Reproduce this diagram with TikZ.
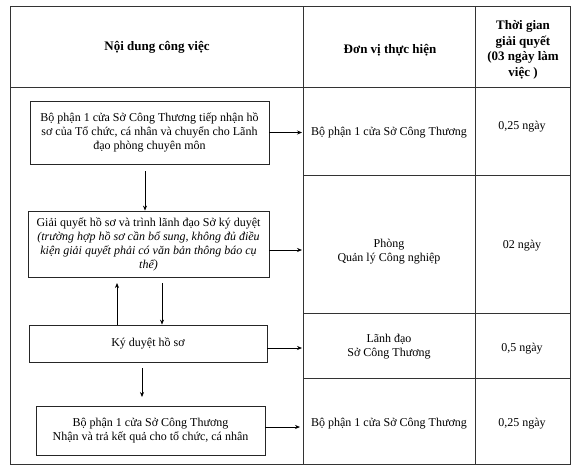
\documentclass[tikz,border=0pt]{standalone}
\usepackage{fontspec}
\setmainfont{Liberation Serif}
\usetikzlibrary{arrows.meta}
\begin{document}
\begin{tikzpicture}[x=1pt,y=-1pt,
  grid/.style={line width=0.7pt, draw=black!80},
  box/.style={draw=black!85, line width=0.8pt, rectangle, inner sep=0pt, align=center,
     font=\fontsize{12}{14}\selectfont},
  txt/.style={align=center, inner sep=0pt, font=\fontsize{12}{14}\selectfont},
  head/.style={align=center, inner sep=0pt, font=\fontsize{13}{15.5}\selectfont\bfseries},
  arr/.style={line width=0.7pt, -{Stealth[length=5pt,width=4pt]}}
]
\useasboundingbox (0,0) rectangle (576,474);
% table
\draw[grid] (10,6) rectangle (570,464);
\draw[grid] (10,87) -- (570,87);
\draw[grid] (303,6) -- (303,464);
\draw[grid] (475,6) -- (475,464);
\draw[grid] (303,175) -- (570,175);
\draw[grid] (303,313) -- (570,313);
\draw[grid] (303,378) -- (570,378);
% header
\node[head] (h1) at (157,47) {Nội dung công việc};
\node[head] (h2) at (390,50) {Đơn vị thực hiện};
\node[head] (h3) at (523,50) {Thời gian\\giải quyết\\(03 ngày làm\\việc )};
% flow boxes
\node[box, minimum width=239pt, minimum height=63pt] (b1) at (149.5,132.5)
  {Bộ phận 1 cửa Sở Công Thương tiếp nhận hồ\\sơ của Tổ chức, cá nhân và chuyển cho Lãnh\\đạo phòng chuyên môn};
\node[box, minimum width=241pt, minimum height=66pt] (b2) at (148.5,244)
  {Giải quyết hồ sơ và trình lãnh đạo Sở ký duyệt\\\itshape (trường hợp hồ sơ cần bổ sung, không đủ điều\\\itshape kiện giải quyết phải có văn bản thông báo cụ\\\itshape thể)};
\node[box, minimum width=238pt, minimum height=37pt] (b3) at (148,343.5) {Ký duyệt hồ sơ};
\node[box, minimum width=229pt, minimum height=49pt] (b4) at (150.5,430.5)
  {Bộ phận 1 cửa Sở Công Thương\\Nhận và trả kết quả cho tổ chức, cá nhân};
% column 2 and 3 texts
\node[txt] (u1) at (389,133) {Bộ phận 1 cửa Sở Công Thương};
\node[txt] (u2) at (389,252) {Phòng\\Quản lý Công nghiệp};
\node[txt] (u3) at (389,347) {Lãnh đạo\\Sở Công Thương};
\node[txt] (u4) at (389,424) {Bộ phận 1 cửa Sở Công Thương};
\node[txt] (t1) at (522,127) {0,25 ngày};
\node[txt] (t2) at (522,246) {02 ngày};
\node[txt] (t3) at (522,349) {0,5 ngày};
\node[txt] (t4) at (522,424) {0,25 ngày};
% connector end points
\coordinate (c1) at (302,132.5);
\coordinate (c2) at (302,250);
\coordinate (c3) at (302,348);
\coordinate (c4) at (300,427);
\coordinate (d1) at (145,171);
\coordinate (d2) at (117,283);
\coordinate (d3) at (162,283);
\coordinate (d4a) at (142,368);
\coordinate (d4b) at (142,397);
% arrows
\draw[arr] (b1.east) -- (c1);
\draw[arr] (c2 -| b2.east) -- (c2);
\draw[arr] (c3 -| b3.east) -- (c3);
\draw[arr] (c4 -| b4.east) -- (c4);
\draw[arr] (d1) -- (d1 |- b2.north);
\draw[arr] (d2 |- b3.north) -- (d2);
\draw[arr] (d3) -- (d3 |- b3.north);
\draw[arr] (d4a) -- (d4b);
\end{tikzpicture}
\end{document}
